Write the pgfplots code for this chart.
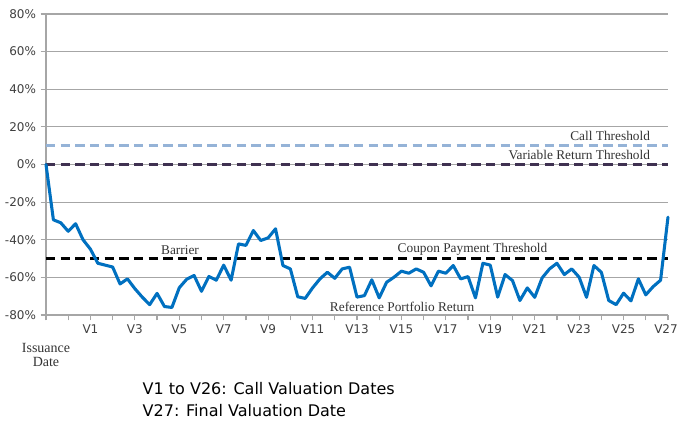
\documentclass[border=0pt]{standalone}
\usepackage{fontspec}
\setmainfont{DejaVu Sans}
\newfontfamily\seriffont{Liberation Serif}
\usepackage{pgfplots}
\pgfplotsset{compat=1.18}
\definecolor{lineblue}{HTML}{0070C0}
\definecolor{callblue}{HTML}{95B3D7}
\definecolor{varpurple}{HTML}{3F3151}
\definecolor{gridgray}{HTML}{A6A6A6}
\definecolor{ticktext}{HTML}{404040}
\definecolor{annot}{HTML}{333333}
\begin{document}
\begin{tikzpicture}
\useasboundingbox (-34.5pt,-87pt) rectangle (474pt,236.25pt);
\begin{axis}[
  at={(0pt,0pt)}, anchor=south west,
  scale only axis, width=466.5pt, height=225.75pt,
  xmin=0, xmax=84, ymin=-80, ymax=80,
  axis x line=bottom, axis y line=left,
  axis line style={-, color=gridgray, line width=0.9pt},
  ytick={-80,-60,...,80},
  yticklabels={-80\%,-60\%,-40\%,-20\%,0\%,20\%,40\%,60\%,80\%},
  xtick={0,3,...,84},
  xticklabels={,,V1,,V3,,V5,,V7,,V9,,V11,,V13,,V15,,V17,,V19,,V21,,V23,,V25,,\hspace{-3pt}V27},
  ymajorgrids, grid style={color=gridgray, line width=0.9pt},
  tick style={color=gridgray, line width=0.9pt},
  tick align=outside, major tick length=4pt,
  ticklabel style={font=\fontsize{9}{10}\selectfont, text=ticktext},
  clip=false,
]
\addplot[callblue, line width=2.2pt, dash pattern=on 7pt off 4pt] coordinates {(0,10) (84,10)};
\addplot[varpurple, line width=2.2pt, dash pattern=on 7pt off 4pt] coordinates {(0,0) (84,0)};
\addplot[black, line width=2.2pt, dash pattern=on 7pt off 4pt] coordinates {(0,-50) (84,-50)};
\addplot[lineblue, line width=2.3pt, line join=round, line cap=round] coordinates {
(0,0) (1,-29.4) (2,-31) (3,-35.5) (4,-31.5) (5,-40) (6,-45) (7,-52.5) (8,-53.5) (9,-54.5)
(10,-63.5) (11,-60.8) (12,-66) (13,-70.5) (14,-74.5) (15,-68.5) (16,-75.5) (17,-76) (18,-65.5) (19,-61)
(20,-59) (21,-67.4) (22,-59.5) (23,-61.5) (24,-53.5) (25,-61.5) (26,-42.2) (27,-43) (28,-35.1) (29,-40.4)
(30,-39) (31,-34.2) (32,-53.7) (33,-55.5) (34,-70.3) (35,-71.2) (36,-65.6) (37,-60.8) (38,-57.3) (39,-60.5)
(40,-55.5) (41,-54.6) (42,-70.5) (43,-69.7) (44,-61.3) (45,-70.9) (46,-62.6) (47,-59.9) (48,-56.7) (49,-57.8)
(50,-55.5) (51,-57.3) (52,-64.5) (53,-56.7) (54,-57.8) (55,-53.7) (56,-60.8) (57,-59.6) (58,-70.9) (59,-52.5)
(60,-53.5) (61,-70.5) (62,-58.5) (63,-61.7) (64,-72.3) (65,-65.6) (66,-70.6) (67,-60.3) (68,-55.5) (69,-52.5)
(70,-58.5) (71,-55.5) (72,-59.9) (73,-70.6) (74,-53.7) (75,-57.3) (76,-72.3) (77,-74.5) (78,-68.4) (79,-72.5)
(80,-60.8) (81,-69.3) (82,-64.9) (83,-61.5) (84,-28)
};
\node[font=\seriffont\fontsize{10}{10}\selectfont, text=annot, anchor=east] at (axis cs:82.2,15.3) {Call Threshold};
\node[font=\seriffont\fontsize{10}{10}\selectfont, text=annot, anchor=east] at (axis cs:82.2,4.8) {Variable Return Threshold};
\node[font=\seriffont\fontsize{10}{10}\selectfont, text=annot] at (axis cs:18.1,-45.4) {Barrier};
\node[font=\seriffont\fontsize{10}{10}\selectfont, text=annot] at (axis cs:57.6,-45.3) {Coupon Payment Threshold};
\node[font=\seriffont\fontsize{10}{10}\selectfont, text=annot] at (axis cs:48.1,-75.5) {Reference Portfolio Return};
\node[font=\seriffont\fontsize{10.5}{10.5}\selectfont, text=annot, align=center, anchor=north] at (axis cs:0,-80) [yshift=-18pt] {Issuance\\Date};
\end{axis}
\node[anchor=base west, font=\fontsize{12}{12}\selectfont] at (69pt,-60pt) {V1 to V26: Call Valuation Dates};
\node[anchor=base west, font=\fontsize{12}{12}\selectfont] at (69pt,-76.5pt) {V27: Final Valuation Date};
\end{tikzpicture}
\end{document}
